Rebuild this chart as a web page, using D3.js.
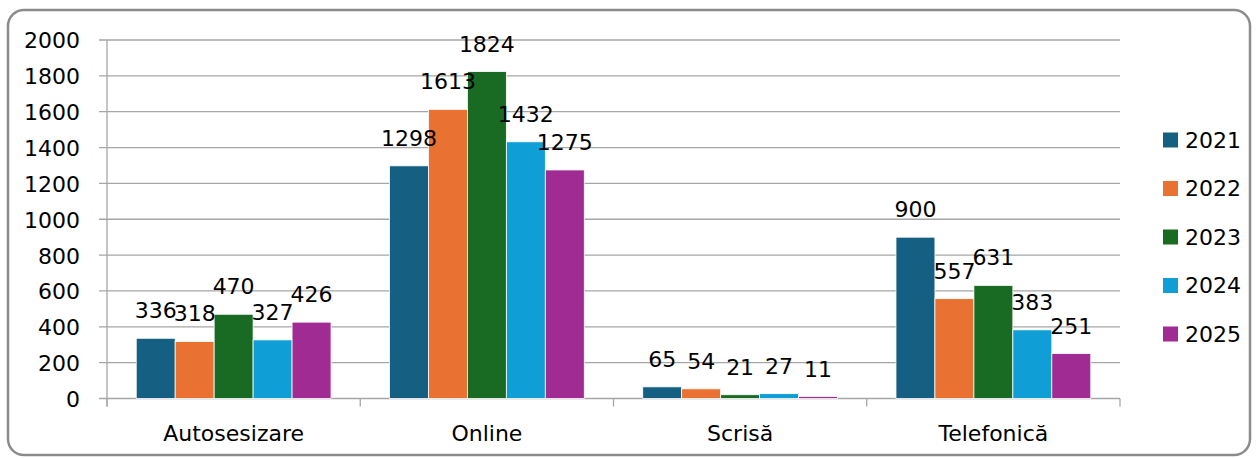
<!DOCTYPE html>
<html>
<head>
<meta charset="utf-8">
<script src="https://cdn.jsdelivr.net/npm/d3@7"></script>
<style>
  body { margin: 0; background: #fff; }
  text { font-family: "DejaVu Sans", sans-serif; fill: #000; }
</style>
</head>
<body>
<svg id="chart" width="1259" height="459"></svg>
<script>
var categories = ["Autosesizare", "Online", "Scrisă", "Telefonică"];
var years = ["2021", "2022", "2023", "2024", "2025"];
var values2021 = [336, 1298, 65, 900];
var values2022 = [318, 1613, 54, 557];
var values2023 = [470, 1824, 21, 631];
var values2024 = [327, 1432, 27, 383];
var values2025 = [426, 1275, 11, 251];
var yTicks = [0, 200, 400, 600, 800, 1000, 1200, 1400, 1600, 1800, 2000];
var colors = ["#156082", "#E97132", "#196B24", "#0F9ED5", "#A02B93"];

var series = [values2021, values2022, values2023, values2024, values2025];

var svg = d3.select("#chart");

// outer frame
svg.append("rect")
  .attr("x", 8).attr("y", 10)
  .attr("width", 1242).attr("height", 445)
  .attr("rx", 16).attr("ry", 16)
  .attr("fill", "#fff")
  .attr("stroke", "#8c8c8c")
  .attr("stroke-width", 2.5);

var plotLeft = 107, plotRight = 1120, plotTop = 40, plotBottom = 398.5;

var y = d3.scaleLinear().domain([0, 2000]).range([plotBottom, plotTop]);
var x0 = d3.scaleBand().domain(categories).range([plotLeft, plotRight]).paddingInner(0).paddingOuter(0);
var x1 = d3.scaleBand().domain(years).range([0, x0.bandwidth()]).paddingInner(0).paddingOuter(0.75);

// gridlines
svg.append("g").selectAll("line.grid").data(yTicks)
  .enter().append("line")
  .attr("x1", plotLeft - 8).attr("x2", plotRight)
  .attr("y1", function(d){ return y(d); })
  .attr("y2", function(d){ return y(d); })
  .attr("stroke", "#a6a6a6").attr("stroke-width", 1.3);

// y axis
var yAxis = svg.append("g")
  .attr("transform", "translate(" + (plotLeft - 27) + ",0)")
  .call(d3.axisLeft(y).tickValues(yTicks).tickFormat(d3.format("d")).tickSize(0).tickPadding(0));
yAxis.select(".domain").remove();
yAxis.selectAll("text")
  .style("font-size", "22px")
  .style("font-family", "DejaVu Sans, sans-serif")
  .attr("dy", "0.36em").attr("fill", "#000");

svg.append("line")
  .attr("x1", plotLeft).attr("x2", plotLeft)
  .attr("y1", plotTop).attr("y2", plotBottom + 8)
  .attr("stroke", "#a6a6a6").attr("stroke-width", 1.3);

// x axis ticks at category boundaries
var bounds = categories.map(function(c){ return x0(c); }).concat([plotRight]);
svg.append("g").selectAll("line.xt").data(bounds)
  .enter().append("line")
  .attr("x1", function(d){ return d; }).attr("x2", function(d){ return d; })
  .attr("y1", plotBottom).attr("y2", plotBottom + 8)
  .attr("stroke", "#a6a6a6").attr("stroke-width", 1.3);

svg.append("g").selectAll("text.cat").data(categories)
  .enter().append("text")
  .attr("x", function(d){ return x0(d) + x0.bandwidth() / 2; })
  .attr("y", 441)
  .attr("text-anchor", "middle")
  .style("font-size", "22px")
  .text(function(d){ return d; });

// bars
var groups = svg.append("g").selectAll("g.cat").data(categories)
  .enter().append("g")
  .attr("transform", function(d){ return "translate(" + x0(d) + ",0)"; });

groups.selectAll("rect").data(function(d, i){
    return years.map(function(yr, j){ return { year: yr, value: series[j][i], idx: j }; });
  })
  .enter().append("rect")
  .attr("x", function(d){ return x1(d.year); })
  .attr("y", function(d){ return y(d.value); })
  .attr("width", x1.bandwidth())
  .attr("height", function(d){ return plotBottom - y(d.value); })
  .attr("fill", function(d){ return colors[d.idx]; })
  .attr("stroke", "#fff").attr("stroke-width", 0.8);

groups.selectAll("text.lbl").data(function(d, i){
    return years.map(function(yr, j){ return { year: yr, value: series[j][i] }; });
  })
  .enter().append("text")
  .attr("x", function(d){ return x1(d.year) + x1.bandwidth() / 2; })
  .attr("y", function(d){ return y(d.value) - 20; })
  .attr("text-anchor", "middle")
  .style("font-size", "22px")
  .text(function(d){ return d.value; });

// legend
var legend = svg.append("g").selectAll("g.leg").data(years)
  .enter().append("g")
  .attr("transform", function(d, i){ return "translate(1163," + (140 + i * 48.5) + ")"; });
legend.append("rect")
  .attr("x", 0).attr("y", -7.5)
  .attr("width", 15).attr("height", 15)
  .attr("fill", function(d, i){ return colors[i]; });
legend.append("text")
  .attr("x", 22).attr("y", 0).attr("dy", "0.36em")
  .style("font-size", "22px")
  .text(function(d){ return d; });
</script>
</body>
</html>
